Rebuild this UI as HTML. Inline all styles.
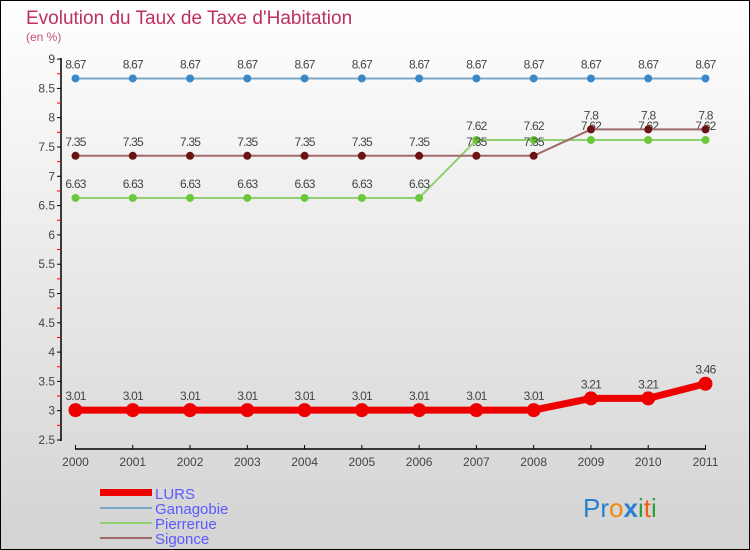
<!DOCTYPE html>
<html><head><meta charset="utf-8"><style>
body{margin:0}
#c{width:750px;height:550px;position:relative;overflow:hidden}
svg text{font-family:"Liberation Sans",sans-serif}
</style></head><body>
<div id="c">
<svg id="s" width="750" height="550" xmlns="http://www.w3.org/2000/svg">
<defs><linearGradient id="bg" x1="0" y1="0" x2="0" y2="1"><stop offset="0" stop-color="#ffffff"/><stop offset="1" stop-color="#d3d3d3"/></linearGradient></defs>
<rect x="0.5" y="0.5" width="749" height="549" fill="url(#bg)" stroke="#000"/>
<text x="26" y="24" font-size="19" fill="#c0305e">Evolution du Taux de Taxe d'Habitation</text>
<text x="26" y="41" font-size="12" fill="#c0507e">(en %)</text>
<g id="axes"></g><g id="series"></g>
<g>
<rect x="100" y="489" width="52" height="7" fill="#e00"/>
<text x="155" y="499" font-size="15" fill="#5a5aff">LURS</text>
<line x1="100" y1="508" x2="152" y2="508" stroke="#7aaac8" stroke-width="2"/>
<text x="155" y="514" font-size="15" fill="#5a5aff">Ganagobie</text>
<line x1="100" y1="523" x2="152" y2="523" stroke="#90d070" stroke-width="2"/>
<text x="155" y="529" font-size="15" fill="#5a5aff">Pierrerue</text>
<line x1="100" y1="538" x2="152" y2="538" stroke="#a06a6a" stroke-width="2"/>
<text x="155" y="544" font-size="15" fill="#5a5aff">Sigonce</text>
</g>
<text x="583" y="517" font-size="26"><tspan fill="#2a7fd0">Pr</tspan><tspan fill="#f08a10">o</tspan><tspan fill="#2a7fd0" font-weight="bold">x</tspan><tspan fill="#30a040">i</tspan><tspan fill="#f06010">t</tspan><tspan fill="#30a040">i</tspan></text>
</svg></div>
<script>
const years=["2000","2001","2002","2003","2004","2005","2006","2007","2008","2009","2010","2011"];
const yTicks=[2.5,3,3.5,4,4.5,5,5.5,6,6.5,7,7.5,8,8.5,9];
const lurs=[3.01,3.01,3.01,3.01,3.01,3.01,3.01,3.01,3.01,3.21,3.21,3.46];
const ganagobie=[8.67,8.67,8.67,8.67,8.67,8.67,8.67,8.67,8.67,8.67,8.67,8.67];
const pierrerue=[6.63,6.63,6.63,6.63,6.63,6.63,6.63,7.62,7.62,7.62,7.62,7.62];
const sigonce=[7.35,7.35,7.35,7.35,7.35,7.35,7.35,7.35,7.35,7.8,7.8,7.8];
const NS="http://www.w3.org/2000/svg";
const X=i=>75.5+i*57.27;
const Y=v=>440-(v-2.5)*58.6;
function mk(t,a,p){const e=document.createElementNS(NS,t);for(const k in a)e.setAttribute(k,a[k]);p.appendChild(e);return e;}
const ax=document.getElementById('axes');
let l=mk('line',{x1:61,y1:58,x2:61,y2:441,stroke:'#000','stroke-width':1.5},ax);


yTicks.forEach((v,k)=>{
 mk('line',{x1:57,y1:Y(v),x2:61,y2:Y(v),stroke:'#000'},ax);
 if(k<yTicks.length-1) mk('line',{x1:57,y1:Y(v+0.25),x2:61,y2:Y(v+0.25),stroke:'#e00'},ax);
 const t=mk('text',{x:55,y:Y(v)+4,'text-anchor':'end','font-size':12,fill:'#444'},ax);
 
 
 t.textContent=String(v);
});
let xa=mk('line',{x1:75,y1:449,x2:706,y2:449,stroke:'#000','stroke-width':1.5},ax);


years.forEach((y,i)=>{
 mk('line',{x1:X(i),y1:445,x2:X(i),y2:449,stroke:'#000'},ax);
 const t=mk('text',{x:X(i),y:466,'text-anchor':'middle','font-size':12,fill:'#444'},ax);
 
 
 t.textContent=y;
});
const sg=document.getElementById('series');
function draw(name,data,line,dot,w,r){
 const g=mk('g',{},sg);
 
 
 mk('polyline',{points:data.map((v,i)=>X(i)+','+Y(v)).join(' '),fill:'none',stroke:line,'stroke-width':w},g);
 data.forEach((v,i)=>{
  const c=mk('circle',{cx:X(i),cy:Y(v),r:r,fill:dot},g);
  
  
  const t=mk('text',{x:X(i),y:Y(v)-10,'text-anchor':'middle','font-size':12,fill:'#444','letter-spacing':'-0.8'},g);
  
  
  t.textContent=String(v);
 });
}
draw('ganagobie',ganagobie,'#7aaac8','#3a88c8',2,4);
draw('pierrerue',pierrerue,'#90d070','#6ac83a',2,4);
draw('sigonce',sigonce,'#a06a6a','#6a1414',2,4);
draw('lurs',lurs,'#e00','#e00',7,7);
</script>
</body></html>
